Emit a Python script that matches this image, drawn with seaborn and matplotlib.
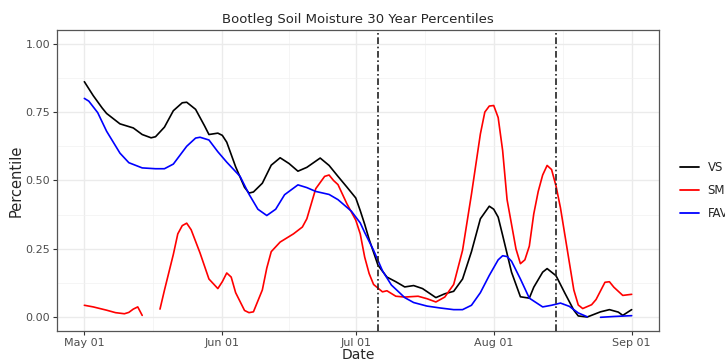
import numpy as np
import pandas as pd
import matplotlib
matplotlib.use("Agg")
import matplotlib.pyplot as plt
import matplotlib.dates as mdates
from matplotlib.lines import Line2D
import seaborn as sns

# days after May 01, percentile values (NaN = gap in the record)
vs_days = [0, 2, 4, 5, 8, 11, 13, 15, 16, 18, 20, 22, 23, 25, 27, 28, 30, 31, 32, 34,
           36, 37, 38, 40, 42, 44, 46, 48, 50, 53, 55, 57, 59, 61, 62, 63, 64, 66, 68, 70,
           72, 74, 76, 79, 81, 83, 85, 87, 89, 91, 92, 93, 94, 96, 98, 100, 101, 103, 104, 106,
           108, 110, 111, 113, 116, 118, 120, 121, 123]
vs_vals = [0.861, 0.81, 0.765, 0.745, 0.707, 0.692, 0.668, 0.656, 0.66, 0.695, 0.755, 0.784, 0.786, 0.76, 0.70, 0.668, 0.673, 0.665, 0.64, 0.55,
           0.475, 0.454, 0.458, 0.49, 0.556, 0.583, 0.562, 0.534, 0.548, 0.582, 0.555, 0.515, 0.476, 0.436, 0.39, 0.34, 0.285, 0.19, 0.147, 0.13,
           0.111, 0.116, 0.105, 0.072, 0.086, 0.095, 0.14, 0.24, 0.36, 0.406, 0.395, 0.366, 0.30, 0.165, 0.075, 0.07, 0.11, 0.165, 0.178, 0.152,
           0.088, 0.026, 0.005, 0.001, 0.02, 0.028, 0.019, 0.007, 0.028]

sm_days = [0, 2, 5, 7, 9, 10, 11, 12, 13, 14, 17, 18, 20, 21, 22, 23, 24, 26, 28, 30,
           31, 32, 33, 34, 36, 37, 38, 40, 41, 42, 44, 47, 49, 50, 52, 54, 55, 56, 57, 59,
           61, 62, 63, 64, 65, 67, 68, 70, 72, 75, 77, 79, 81, 83, 85, 87, 89, 90, 91, 92,
           93, 94, 95, 97, 98, 99, 100, 101, 102, 103, 104, 105, 106, 107, 108, 109, 110, 111, 112, 114,
           115, 117, 118, 119, 121, 123]
sm_vals = [0.044, 0.038, 0.026, 0.017, 0.013, 0.018, 0.03, 0.038, 0.007, np.nan, 0.03, 0.099, 0.23, 0.305, 0.335, 0.344, 0.32, 0.235, 0.14, 0.105,
           0.13, 0.162, 0.147, 0.09, 0.025, 0.017, 0.02, 0.10, 0.18, 0.24, 0.275, 0.305, 0.33, 0.36, 0.47, 0.515, 0.52, 0.50, 0.485, 0.415,
           0.355, 0.305, 0.22, 0.16, 0.12, 0.093, 0.097, 0.077, 0.074, 0.077, 0.068, 0.056, 0.074, 0.12, 0.245, 0.45, 0.67, 0.75, 0.772, 0.774,
           0.73, 0.61, 0.43, 0.25, 0.196, 0.21, 0.26, 0.378, 0.46, 0.52, 0.555, 0.54, 0.48, 0.40, 0.30, 0.20, 0.10, 0.045, 0.032, 0.046,
           0.065, 0.128, 0.13, 0.11, 0.08, 0.084]

fav_days = [0, 1, 3, 5, 8, 10, 13, 16, 18, 20, 23, 25, 26, 28, 30, 32, 35, 37, 39, 41,
            43, 45, 48, 50, 52, 55, 57, 60, 62, 63, 65, 67, 69, 72, 74, 77, 80, 83, 85, 87,
            89, 91, 93, 94, 95, 96, 98, 100, 103, 105, 107, 109, 111, 113, 114, 116, 119, 123]
fav_vals = [0.80, 0.79, 0.748, 0.68, 0.60, 0.565, 0.546, 0.543, 0.543, 0.56, 0.625, 0.655, 0.658, 0.648, 0.605, 0.567, 0.515, 0.45, 0.395, 0.372,
            0.395, 0.448, 0.484, 0.474, 0.46, 0.449, 0.43, 0.388, 0.345, 0.31, 0.245, 0.17, 0.118, 0.072, 0.054, 0.041, 0.034, 0.028, 0.028, 0.044,
            0.09, 0.153, 0.21, 0.225, 0.222, 0.205, 0.14, 0.07, 0.038, 0.044, 0.052, 0.04, 0.016, 0.002, np.nan, 0.0, 0.003, 0.006]

series_names = ["VS", "SM", "FAV"]
series_colors = ["black", "red", "blue"]
event_dates = ["2021-07-06", "2021-08-15"]
tick_dates = ["2021-05-01", "2021-06-01", "2021-07-01", "2021-08-01", "2021-09-01"]
start = pd.Timestamp("2021-05-01")


def build(name, days, vals):
    d = pd.DataFrame({"day": days, "Percentile": vals})
    d["seg"] = d["Percentile"].isna().cumsum()
    d = d.dropna()
    d["Date"] = start + pd.to_timedelta(d["day"], unit="D")
    d["series"] = name
    return d


df = pd.concat([build("VS", vs_days, vs_vals),
                build("SM", sm_days, sm_vals),
                build("FAV", fav_days, fav_vals)], ignore_index=True)

sns.set_theme(style="white")
plt.rcParams["font.family"] = ["DejaVu Sans"]

fig = plt.figure(figsize=(7.25, 3.64), dpi=100)
ax = fig.add_axes([0.0786, 0.0907, 0.909 - 0.0786, 0.9176 - 0.0907])

sns.lineplot(data=df, x="Date", y="Percentile", hue="series", units="seg", estimator=None,
             hue_order=series_names, palette=dict(zip(series_names, series_colors)),
             linewidth=1.2, legend=False, ax=ax, zorder=3)

for d in event_dates:
    ax.axvline(pd.Timestamp(d), color="#222222", lw=1.2, linestyle=(0, (4, 1.6, 1, 1.6)), zorder=4)

# axes / theme_bw look
ticks = pd.to_datetime(tick_dates)
ax.set_xticks(ticks)
ax.xaxis.set_major_formatter(mdates.DateFormatter("%b %d"))
mids = [ticks[i] + (ticks[i + 1] - ticks[i]) / 2 for i in range(len(ticks) - 1)]
ax.set_xticks(mids, minor=True)
ax.set_xlim(start - pd.Timedelta(days=6.15), pd.Timestamp("2021-09-01") + pd.Timedelta(days=6.15))
ax.set_ylim(-0.05, 1.05)
ax.set_yticks([0, 0.25, 0.5, 0.75, 1.0])
ax.set_yticklabels(["0.00", "0.25", "0.50", "0.75", "1.00"])
ax.set_yticks([0.125, 0.375, 0.625, 0.875], minor=True)

ax.grid(which="major", color="#EBEBEB", lw=1.0, zorder=0)
ax.grid(which="minor", color="#F2F2F2", lw=0.5, zorder=0)
for s in ax.spines.values():
    s.set_color("#555555")
    s.set_linewidth(0.9)
ax.tick_params(which="major", length=3, width=0.8, color="#333333", labelcolor="#4D4D4D",
               labelsize=8, pad=2, bottom=True, left=True)
ax.tick_params(which="minor", length=0)

ax.set_xlabel("Date", fontsize=10, labelpad=0)
ax.set_ylabel("Percentile", fontsize=10.5, labelpad=1)
ax.set_title("Bootleg Soil Moisture 30 Year Percentiles", fontsize=9.5, pad=5)

handles = [Line2D([], [], color=c, lw=1.3) for c in series_colors]
fig.legend(handles, series_names, loc="center left", bbox_to_anchor=(0.932, 0.477),
           frameon=False, fontsize=8.5, handlelength=1.6, handletextpad=0.7,
           labelspacing=0.85, borderaxespad=0)

fig.savefig("out.png", dpi=100)
